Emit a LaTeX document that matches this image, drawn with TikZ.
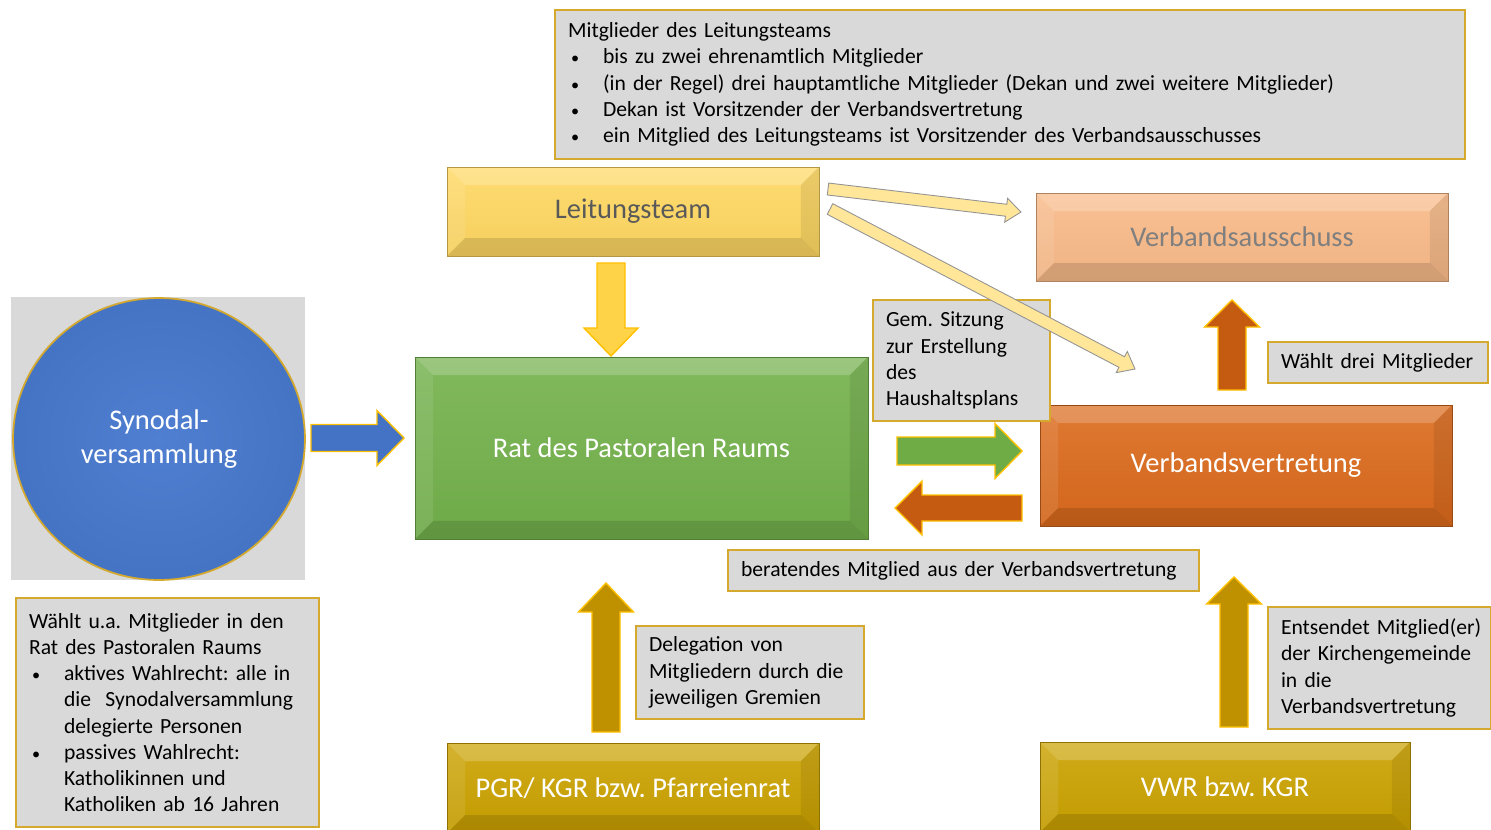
\documentclass[tikz,border=0pt]{standalone}
\usepackage{fontspec}
\setmainfont{Carlito}
\usetikzlibrary{calc,shapes.geometric}
\frenchspacing
\definecolor{boxgray}{HTML}{D9D9D9}
\definecolor{boxgold}{HTML}{D4A92E}
\definecolor{ltyellow}{HTML}{FFD862}
\definecolor{peach}{HTML}{F9BA88}
\definecolor{ratgreen}{HTML}{73B14B}
\definecolor{vvorange}{HTML}{DB6A1C}
\definecolor{darkorange}{HTML}{C55A11}
\definecolor{goldbox}{HTML}{CBA200}
\definecolor{goldarrow}{HTML}{BF9000}
\definecolor{synblue}{HTML}{4A7BD0}
\definecolor{bluearrow}{HTML}{4472C4}
\definecolor{palegold}{HTML}{FFE699}
\definecolor{arrowgreen}{HTML}{6FAC46}
\definecolor{yellowarrow}{HTML}{FFD347}
\definecolor{rimgold}{HTML}{FFC000}
\definecolor{ltgray}{HTML}{595959}
\definecolor{midgray}{HTML}{7F7F7F}
\newcommand\myb{\makebox[0.7cm][l]{\hspace{0.06cm}\scalebox{0.75}{\textbullet}}}
\newcommand\myi{\hspace*{0.7cm}}
\newcommand\barrow[6]{%
  \path ($(#3)!#6!(#2)$) coordinate (bh);
  \draw[#1] ($(#2)!#4!90:(#3)$) -- ($(bh)!#4!90:(#3)$) -- ($(bh)!#5!90:(#3)$) -- (#3)
    -- ($(bh)!#5!-90:(#3)$) -- ($(bh)!#4!-90:(#3)$) -- ($(#2)!#4!-90:(#3)$) -- cycle;
}
\tikzset{
  infobox/.style={draw=boxgold, line width=1pt, fill=boxgray, align=left,
    inner xsep=0.26cm, inner ysep=0pt, font=\fontsize{12.3}{14.9}\selectfont, text=black},
  bevel/.style={path picture={
    \fill[white,opacity=.2] (path picture bounding box.north west) -- (path picture bounding box.north east)
      -- ([shift={(-0.36cm,-0.36cm)}]path picture bounding box.north east)
      -- ([shift={(0.36cm,-0.36cm)}]path picture bounding box.north west) -- cycle;
    \fill[white,opacity=.09] (path picture bounding box.north west)
      -- ([shift={(0.36cm,-0.36cm)}]path picture bounding box.north west)
      -- ([shift={(0.36cm,0.36cm)}]path picture bounding box.south west)
      -- (path picture bounding box.south west) -- cycle;
    \fill[black,opacity=.12] (path picture bounding box.south west)
      -- ([shift={(0.36cm,0.36cm)}]path picture bounding box.south west)
      -- ([shift={(-0.36cm,0.36cm)}]path picture bounding box.south east)
      -- (path picture bounding box.south east) -- cycle;
    \fill[black,opacity=.08] (path picture bounding box.north east)
      -- ([shift={(-0.36cm,-0.36cm)}]path picture bounding box.north east)
      -- ([shift={(-0.36cm,0.36cm)}]path picture bounding box.south east)
      -- (path picture bounding box.south east) -- cycle;
  }},
  bevelbox/.style={top color=#1!90!white, bottom color=#1!96!black, draw=#1!70!black,
    line width=0.4pt, inner sep=0pt, font=\fontsize{16.2}{19}\selectfont, text=white, bevel},
  blockarrow/.style={fill=#1, draw=rimgold, line width=0.8pt, line join=miter},
  thinarrow/.style={fill=palegold, draw=gray!85, line width=0.5pt, line join=miter}
}
\begin{document}
\begin{tikzpicture}[x=0.02cm,y=-0.02cm]
\useasboundingbox (0,0) rectangle (1491,829);
\clip (0,0) rectangle (1491,829);

% top info box
\node[infobox, minimum width=18.2cm, text width=17.68cm, minimum height=2.98cm] (top) at (1010,84.5)
 {Mitglieder des Leitungsteams\\
  \myb bis zu zwei ehrenamtlich Mitglieder\\
  \myb (in der Regel) drei hauptamtliche Mitglieder (Dekan und zwei weitere Mitglieder)\\
  \myb Dekan ist Vorsitzender der Verbandsvertretung\\
  \myb ein Mitglied des Leitungsteams ist Vorsitzender des Verbandsausschusses};

% main boxes
\node[bevelbox=ltyellow, text=ltgray, minimum width=7.44cm, minimum height=1.78cm] (lt) at (633,211.5) {Leitungsteam};
\node[bevelbox=peach, text=midgray, minimum width=8.24cm, minimum height=1.76cm] (va) at (1242,237) {Verbandsausschuss};
\node[fill=boxgray, minimum width=5.88cm, minimum height=5.66cm, inner sep=0pt] (synbg) at (158,438.5) {};
\node[ellipse, inner color=synblue!97!white, outer color=synblue!94!black, draw=boxgold, line width=1pt, minimum width=5.84cm, minimum height=5.64cm,
  inner sep=0pt, align=center, text=white, font=\fontsize{16.2}{19}\selectfont] (syn) at (159,439) {Synodal-\\versammlung};
\node[bevelbox=ratgreen, minimum width=9.06cm, minimum height=3.64cm] (rat) at (641.5,448) {Rat des Pastoralen Raums};
\node[bevelbox=vvorange, minimum width=8.24cm, minimum height=2.42cm] (vv) at (1246,465.5) {Verbandsvertretung};
\node[infobox, minimum width=3.54cm, text width=3.02cm, minimum height=2.42cm] (gem) at (961.5,360.5)
 {Gem. Sitzung\\zur Erstellung\\des\\Haushaltsplans};
\node[infobox, minimum width=4.4cm, text width=3.88cm, minimum height=0.82cm] (wdm) at (1378,362.5)
 {\mbox{Wählt drei Mitglieder}};
\node[infobox, minimum width=9.42cm, text width=8.9cm, minimum height=0.82cm] (ber) at (963.5,570.5)
 {\mbox{beratendes Mitglied aus der Verbandsvertretung}};
\node[infobox, minimum width=4.56cm, text width=4.04cm, minimum height=1.86cm] (del) at (750,672.5)
 {Delegation von\\\mbox{Mitgliedern durch die}\\jeweiligen Gremien};
\node[infobox, minimum width=4.46cm, text width=3.94cm, minimum height=2.44cm] (ent) at (1379.5,668)
 {\mbox{Entsendet Mitglied(er)}\\\mbox{der Kirchengemeinde}\\in die\\Verbandsvertretung};
\node[infobox, minimum width=6.06cm, text width=5.54cm, minimum height=4.58cm] (wahl) at (167.5,712.5)
 {\mbox{Wählt u.a. Mitglieder in den}\\
  Rat des Pastoralen Raums\\
  \myb \mbox{aktives Wahlrecht: alle in}\\
  \myi \mbox{die\ \ Synodalversammlung}\\
  \myi delegierte Personen\\
  \myb passives Wahlrecht:\\
  \myi Katholikinnen und\\
  \myi \mbox{Katholiken ab 16 Jahren}};
\node[bevelbox=goldbox, minimum width=7.44cm, minimum height=1.8cm] (pgr) at (633,788) {PGR/ KGR bzw. Pfarreienrat};
\node[bevelbox=goldbox, minimum width=7.4cm, minimum height=1.8cm] (vwr) at (1225,787) {VWR bzw. KGR};

% connector end points
\coordinate (syn-o) at (311,438);   \coordinate (rat-i) at (404,438);
\coordinate (lt-o)  at (611,263);   \coordinate (rat-t) at (611,356);
\coordinate (vv-o)  at (1232,390);  \coordinate (va-i)  at (1232,300);
\coordinate (rat-o) at (897,451);   \coordinate (vv-i)  at (1022,451);
\coordinate (vv-b)  at (1022,508);  \coordinate (rat-b) at (895,508);
\coordinate (pgr-o) at (606,732);   \coordinate (rat-d) at (606,583);
\coordinate (vwr-o) at (1234,727);  \coordinate (vv-d)  at (1234,577);
\coordinate (lt-o1) at (828,189);   \coordinate (va-l)  at (1021,212);
\coordinate (lt-o2) at (830,209);   \coordinate (vv-t)  at (1135,369);

% block arrows
\barrow{blockarrow=bluearrow}{syn-o}{rat-i}{0.27cm}{0.55cm}{0.54cm}
\barrow{blockarrow=yellowarrow}{lt-o}{rat-t}{0.28cm}{0.54cm}{0.56cm}
\barrow{blockarrow=darkorange}{vv-o}{va-i}{0.28cm}{0.55cm}{0.54cm}
\barrow{blockarrow=arrowgreen}{rat-o}{vv-i}{0.28cm}{0.55cm}{0.54cm}
\barrow{blockarrow=darkorange}{vv-b}{rat-b}{0.26cm}{0.54cm}{0.54cm}
\barrow{blockarrow=goldarrow}{pgr-o}{rat-d}{0.28cm}{0.55cm}{0.58cm}
\barrow{blockarrow=goldarrow}{vwr-o}{vv-d}{0.28cm}{0.55cm}{0.54cm}
% thin arrows from Leitungsteam
\barrow{thinarrow}{lt-o1}{va-l}{0.12cm}{0.24cm}{0.3cm}
\barrow{thinarrow}{lt-o2}{vv-t}{0.12cm}{0.24cm}{0.3cm}
\end{tikzpicture}
\end{document}
